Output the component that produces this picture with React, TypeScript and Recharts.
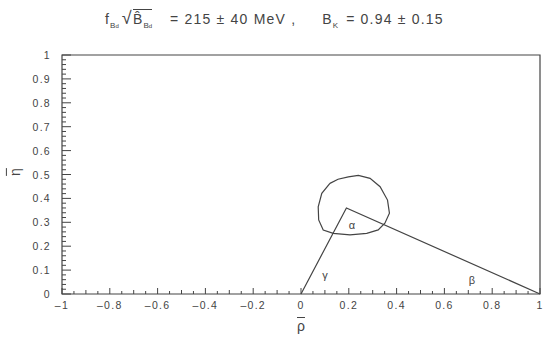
import React from 'react';
import { ComposedChart, Line, XAxis, YAxis, ReferenceArea, ReferenceDot } from 'recharts';

// axis ticks and labels
const xMajor = [-1, -0.8, -0.6, -0.4, -0.2, 0, 0.2, 0.4, 0.6, 0.8, 1];
const xLabels = ['–1', '–0.8', '–0.6', '–0.4', '–0.2', '0', '0.2', '0.4', '0.6', '0.8', '1'];
const yMajor = [0, 0.1, 0.2, 0.3, 0.4, 0.5, 0.6, 0.7, 0.8, 0.9, 1];
const yLabels = ['0', '0.1', '0.2', '0.3', '0.4', '0.5', '0.6', '0.7', '0.8', '0.9', '1'];
const xTicks = Array.from({ length: 41 }, (_, i) => Math.round((-1 + i * 0.05) * 100) / 100);
const yTicks = Array.from({ length: 51 }, (_, i) => Math.round(i * 0.02 * 100) / 100);

// unitarity triangle (rho, eta)
const triangle = [
  { x: 0, y: 0 },
  { x: 0.19, y: 0.36 },
  { x: 1, y: 0 },
];

// allowed region contour
const contour = [
  { x: 0.121, y: 0.463 },
  { x: 0.155, y: 0.48 },
  { x: 0.198, y: 0.49 },
  { x: 0.24, y: 0.496 },
  { x: 0.289, y: 0.484 },
  { x: 0.331, y: 0.449 },
  { x: 0.362, y: 0.393 },
  { x: 0.37, y: 0.338 },
  { x: 0.351, y: 0.296 },
  { x: 0.323, y: 0.268 },
  { x: 0.275, y: 0.254 },
  { x: 0.205, y: 0.247 },
  { x: 0.135, y: 0.254 },
  { x: 0.093, y: 0.268 },
  { x: 0.074, y: 0.31 },
  { x: 0.072, y: 0.365 },
  { x: 0.087, y: 0.421 },
  { x: 0.121, y: 0.463 },
];

const angleLabels = [
  { x: 0.1, y: 0.079, text: 'γ' },
  { x: 0.213, y: 0.289, text: 'α' },
  { x: 0.715, y: 0.059, text: 'β' },
];

const INK = '#444';
const FONT = '"Liberation Sans", Arial, sans-serif';

const near = (a: number, b: number) => Math.abs(a - b) < 1e-6;

const XTick = ({ x, y, payload }: any) => {
  const v = payload.value;
  const i = xMajor.findIndex((m) => near(m, v));
  const tenth = near(Math.round(v * 10), v * 10);
  const len = i >= 0 ? 6 : tenth ? 4 : 3;
  return (
    <g>
      <line x1={x} x2={x} y1={y} y2={y - len} stroke={INK} />
      {i >= 0 && (
        <text x={x} y={y + 15} textAnchor="middle" fontSize={10.5} letterSpacing={1.3} fill={INK} fontFamily={FONT}>
          {xLabels[i]}
        </text>
      )}
    </g>
  );
};

const YTick = ({ x, y, payload }: any) => {
  const v = payload.value;
  const i = yMajor.findIndex((m) => near(m, v));
  const len = i >= 0 ? 9 : 4;
  return (
    <g>
      <line x1={x} x2={x + len} y1={y} y2={y} stroke={INK} />
      {i >= 0 && (
        <text x={x - 11} y={y + 4} textAnchor="end" fontSize={10.5} letterSpacing={1.3} fill={INK} fontFamily={FONT}>
          {yLabels[i]}
        </text>
      )}
    </g>
  );
};

export default function App() {
  const sub: React.CSSProperties = { fontSize: 8, verticalAlign: 'sub', letterSpacing: 0 };
  return (
    <div style={{ position: 'absolute', left: 0, top: 0, width: 544, height: 343, background: '#fff', fontFamily: FONT, color: INK }}>
      <div style={{ position: 'absolute', left: 105, top: 8, fontSize: 14, letterSpacing: 1.2, whiteSpace: 'nowrap' }}>
        <span>f</span>
        <span style={sub}>
          B<span style={{ fontSize: 6 }}>d</span>
        </span>
        <span style={{ fontSize: 18, marginLeft: 3 }}>√</span>
        <span style={{ borderTop: `1px solid ${INK}`, paddingTop: 1 }}>
          B̂
          <span style={sub}>
            B<span style={{ fontSize: 6 }}>d</span>
          </span>
        </span>
        <span style={{ marginLeft: 18 }}>= 215 ± 40 MeV ,</span>
        <span style={{ marginLeft: 26 }}>B</span>
        <span style={sub}>K</span>
        <span style={{ marginLeft: 8 }}>= 0.94 ± 0.15</span>
      </div>
      <div style={{ position: 'absolute', left: 297, top: 318, fontSize: 14, textDecoration: 'overline' }}>ρ</div>
      <div style={{ position: 'absolute', left: 11, top: 164, fontSize: 14, textDecoration: 'overline', transform: 'rotate(-90deg)' }}>η</div>
      <ComposedChart width={544} height={343} margin={{ top: 55, right: 4, bottom: 19, left: 12 }}>
        <XAxis
          type="number"
          dataKey="x"
          domain={[-1, 1]}
          ticks={xTicks}
          interval={0}
          tickSize={0}
          tickMargin={0}
          tickLine={false}
          axisLine={false}
          height={30}
          tick={<XTick />}
        />
        <YAxis
          type="number"
          domain={[0, 1]}
          ticks={yTicks}
          interval={0}
          tickSize={0}
          tickMargin={0}
          tickLine={false}
          axisLine={false}
          width={50}
          tick={<YTick />}
        />
        <ReferenceArea x1={-1} x2={1} y1={0} y2={1} fill="none" stroke={INK} strokeWidth={1.2} />
        <Line data={triangle} dataKey="y" type="linear" stroke={INK} strokeWidth={1.2} dot={false} isAnimationActive={false} />
        <Line data={contour} dataKey="y" type="linear" stroke={INK} strokeWidth={1.2} dot={false} isAnimationActive={false} />
        {angleLabels.map((a) => (
          <ReferenceDot
            key={a.text}
            x={a.x}
            y={a.y}
            r={1}
            fill="none"
            stroke="none"
            label={{ value: a.text, position: 'center', fontSize: 11, fill: INK, fontFamily: FONT }}
          />
        ))}
      </ComposedChart>
    </div>
  );
}
